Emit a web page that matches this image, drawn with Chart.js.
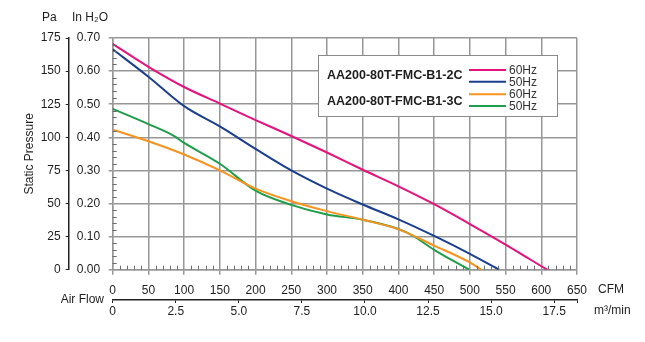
<!DOCTYPE html>
<html>
<head>
<meta charset="utf-8">
<title>AA200-80T-FMC-B1 fan curve</title>
<script src="https://cdn.jsdelivr.net/npm/chart.js@4.4.0/dist/chart.umd.min.js"></script>
<style>
  html, body { margin: 0; padding: 0; background: #fff; }
  #chart { display: block; }
</style>
</head>
<body>
<canvas id="chart" width="645" height="342"></canvas>
<script>
// air flow (CFM) vs static pressure (in H2O)
const flow2C60 = [0, 50, 100, 150, 200, 250, 300, 350, 400, 450, 500, 550, 608];
const pres2C60 = [0.682, 0.613, 0.552, 0.502, 0.452, 0.404, 0.354, 0.302, 0.252, 0.198, 0.138, 0.076, 0];

const flow2C50 = [0, 50, 100, 150, 200, 250, 300, 350, 400, 450, 500, 541];
const pres2C50 = [0.666, 0.583, 0.494, 0.433, 0.365, 0.300, 0.245, 0.197, 0.152, 0.102, 0.048, 0];

const flow3C60 = [0, 50, 100, 150, 200, 250, 300, 350, 400, 450, 500, 516];
const pres3C60 = [0.423, 0.388, 0.348, 0.300, 0.245, 0.207, 0.177, 0.151, 0.122, 0.073, 0.022, 0];

const flow3C50 = [0, 50, 85, 100, 150, 200, 250, 300, 350, 400, 420, 450, 499];
const pres3C50 = [0.486, 0.440, 0.405, 0.383, 0.320, 0.239, 0.196, 0.167, 0.151, 0.123, 0.103, 0.060, 0];

const models = ['AA200-80T-FMC-B1-2C', 'AA200-80T-FMC-B1-3C'];
const seriesLabels = ['60Hz', '50Hz', '60Hz', '50Hz'];
const seriesColors = ['#e5127d', '#1b3f8f', '#f7931e', '#1f9e4a'];

// tick labels
const cfmTicks = [0, 50, 100, 150, 200, 250, 300, 350, 400, 450, 500, 550, 600, 650];
const m3Ticks = [0, 2.5, 5.0, 7.5, 10.0, 12.5, 15.0, 17.5];
const inH2OTicks = [0, 0.1, 0.2, 0.3, 0.4, 0.5, 0.6, 0.7];
const paTicks = [0, 25, 50, 75, 100, 125, 150, 175];

const CFM_TO_M3 = 0.0283168;
const cfmMax = 650;
const m3Max = cfmMax * CFM_TO_M3;

const textColor = '#1e1e1e';
const gridColor = '#979797';
const FONT = '"Liberation Sans", Arial, sans-serif';

const toPoints = (xs, ys) => xs.map((v, i) => ({ x: v, y: ys[i] }));
const fixTicks = list => scale => { scale.ticks = list.map(v => ({ value: v })); };

const extras = {
    id: 'extras',
    afterDraw(chart) {
        const ctx = chart.ctx;
        const area = chart.chartArea;
        const xs = chart.scales.x;
        const ys = chart.scales.y;
        ctx.save();

        // minor ticks inside the plot frame
        ctx.strokeStyle = '#6a6a6a';
        ctx.lineWidth = 1;
        ctx.beginPath();
        for (let v = 10; v < cfmMax; v += 10) {
            if (v % 50 === 0) continue;
            const px = Math.round(xs.getPixelForValue(v)) + 0.5;
            ctx.moveTo(px, area.bottom);
            ctx.lineTo(px, area.bottom - 4);
        }
        for (let i = 1; i < 35; i++) {
            if (i % 5 === 0) continue;
            const py = Math.round(ys.getPixelForValue(i * 0.02)) + 0.5;
            ctx.moveTo(area.left, py);
            ctx.lineTo(area.left + 4, py);
        }
        ctx.stroke();

        // legend box
        ctx.fillStyle = '#fff';
        ctx.strokeStyle = '#8a8a8a';
        ctx.fillRect(318.5, 55.5, 239, 61);
        ctx.strokeRect(318.5, 55.5, 239, 61);

        ctx.textBaseline = 'middle';
        ctx.textAlign = 'left';
        ctx.fillStyle = textColor;
        ctx.font = 'bold 12.5px ' + FONT;
        ctx.fillText(models[0], 327, 76);
        ctx.fillText(models[1], 327, 101.5);

        const rowY = [70, 81.7, 94.3, 106];
        ctx.font = '12px ' + FONT;
        chart.data.datasets.forEach((ds, i) => {
            ctx.strokeStyle = ds.borderColor;
            ctx.lineWidth = 2;
            ctx.beginPath();
            ctx.moveTo(469, rowY[i]);
            ctx.lineTo(506, rowY[i]);
            ctx.stroke();
            ctx.fillStyle = '#333';
            ctx.fillText(seriesLabels[i], 509, rowY[i] + 0.5);
        });

        // axis captions
        ctx.fillStyle = textColor;
        ctx.font = '12px ' + FONT;
        ctx.fillText('Pa', 42, 18);
        ctx.fillText('In H₂O', 72, 18);
        ctx.fillText('CFM', 598, 290);
        ctx.fillText('m³/min', 594, 311);
        ctx.textAlign = 'right';
        ctx.fillText('Air Flow', 104, 300);
        ctx.restore();
    }
};

const datasets = [
    [flow2C60, pres2C60],
    [flow2C50, pres2C50],
    [flow3C60, pres3C60],
    [flow3C50, pres3C50]
].map(([f, p], i) => ({
    label: models[i < 2 ? 0 : 1] + ' ' + seriesLabels[i],
    data: toPoints(f, p),
    borderColor: seriesColors[i],
    backgroundColor: seriesColors[i],
    borderWidth: 2,
    pointRadius: 0,
    fill: false,
    cubicInterpolationMode: 'monotone'
}));

new Chart(document.getElementById('chart'), {
    type: 'line',
    data: { datasets },
    options: {
        responsive: false,
        animation: false,
        devicePixelRatio: 1,
        layout: { padding: { left: 20, right: 68, top: 38, bottom: 20 } },
        plugins: { legend: { display: false }, tooltip: { enabled: false } },
        scales: {
            x: {
                type: 'linear',
                position: 'bottom',
                weight: 0,
                min: 0,
                max: cfmMax,
                afterBuildTicks: fixTicks(cfmTicks),
                afterFit: s => { s.height = 30.3; },
                grid: { color: gridColor, lineWidth: 1.5, tickLength: 5 },
                border: { color: gridColor, width: 1.5 },
                ticks: { color: textColor, font: { family: FONT, size: 12 }, padding: 9, maxRotation: 0, autoSkip: false }
            },
            x2: {
                type: 'linear',
                position: 'bottom',
                weight: 1,
                min: 0,
                max: m3Max,
                afterBuildTicks: s => { s.ticks = m3Ticks.map(v => ({ value: v })).concat({ value: m3Max }); },
                afterFit: s => { s.height = 22; },
                grid: { drawOnChartArea: false, color: '#222', lineWidth: 1, tickLength: 3 },
                border: { color: '#222', width: 1.5 },
                ticks: {
                    color: textColor,
                    font: { family: FONT, size: 12 },
                    padding: 1.5,
                    maxRotation: 0,
                    autoSkip: false,
                    callback: v => m3Ticks.includes(v) ? (v === 0 ? '0' : v.toFixed(1)) : ''
                }
            },
            y: {
                type: 'linear',
                position: 'left',
                weight: 0,
                min: 0,
                max: 0.7,
                afterBuildTicks: fixTicks(inH2OTicks),
                afterFit: s => { s.width = 44; },
                grid: { color: gridColor, lineWidth: 1.5, tickLength: 4 },
                border: { color: gridColor, width: 1.5 },
                ticks: { color: textColor, font: { family: FONT, size: 12 }, padding: 8.6, callback: v => v.toFixed(2) }
            },
            yPa: {
                type: 'linear',
                position: 'left',
                weight: 1,
                min: 0,
                max: 175,
                afterBuildTicks: fixTicks(paTicks),
                afterFit: s => { s.width = 48.7; },
                grid: { drawOnChartArea: false, color: '#222', lineWidth: 1, tickLength: 3 },
                border: { color: '#222', width: 1.5 },
                ticks: { color: textColor, font: { family: FONT, size: 12 }, padding: 5 },
                title: {
                    display: true,
                    text: 'Static Pressure',
                    color: textColor,
                    font: { family: FONT, size: 12 },
                    padding: { top: 2, bottom: 0 }
                }
            }
        }
    },
    plugins: [extras]
});
</script>
</body>
</html>
